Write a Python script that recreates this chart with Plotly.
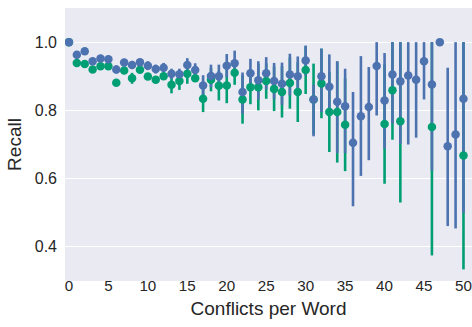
import plotly.graph_objects as go

conflicts = list(range(0, 51))

blue_recall = [1.0, 0.963, 0.973, 0.944, 0.952, 0.950, 0.920, 0.940, 0.933, 0.941,
               0.931, 0.921, 0.925, 0.907, 0.906, 0.933, 0.918, 0.873, 0.901, 0.900,
               0.931, 0.938, 0.854, 0.909, 0.888, 0.909, 0.886, 0.878, 0.905, 0.900,
               0.946, 0.832, 0.900, 0.869, 0.825, 0.812, 0.705, 0.783, 0.810, 0.930,
               0.829, 0.905, 0.885, 0.902, 0.890, 0.944, 0.876, 1.0, 0.695, 0.729,
               0.834]
blue_lo = [1.0, 0.955, 0.965, 0.934, 0.942, 0.940, 0.908, 0.930, 0.921, 0.931,
           0.918, 0.908, 0.911, 0.892, 0.890, 0.913, 0.898, 0.843, 0.868, 0.866,
           0.897, 0.901, 0.790, 0.867, 0.832, 0.862, 0.833, 0.816, 0.844, 0.842,
           0.902, 0.724, 0.795, 0.800, 0.675, 0.675, 0.519, 0.608, 0.654, 0.785,
           0.688, 0.761, 0.702, 0.700, 0.720, 0.832, 0.624, 1.0, 0.461, 0.454,
           0.500]
blue_hi = [1.0, 0.971, 0.981, 0.954, 0.962, 0.960, 0.932, 0.950, 0.945, 0.951,
           0.944, 0.934, 0.939, 0.922, 0.922, 0.953, 0.938, 0.903, 0.934, 0.934,
           0.965, 0.975, 0.911, 0.951, 0.944, 0.956, 0.939, 0.940, 0.966, 0.958,
           0.990, 0.875, 0.981, 0.964, 0.944, 0.922, 0.854, 0.959, 0.927, 1.0,
           0.968, 1.0, 1.0, 1.0, 1.0, 1.0, 1.0, 1.0, 0.925, 1.0,
           1.0]

N = None
green_recall = [1.0, 0.939, 0.936, 0.920, 0.929, 0.929, 0.881, 0.917, 0.894, 0.919,
                0.899, 0.890, 0.900, 0.875, 0.886, 0.907, 0.894, 0.834, 0.890, 0.872,
                0.873, 0.910, 0.832, 0.868, 0.868, 0.886, 0.863, 0.854, 0.880, 0.854,
                0.918, 0.832, 0.879, 0.795, 0.795, 0.758, N, N, N, N,
                0.760, 0.859, 0.768, N, N, N, 0.751, N, N, N,
                0.668]
green_lo = [1.0, 0.931, 0.928, 0.912, 0.921, 0.921, 0.873, 0.909, 0.878, 0.911,
            0.889, 0.880, 0.890, 0.850, 0.860, 0.878, 0.884, 0.795, 0.856, 0.829,
            0.821, 0.875, 0.761, 0.818, 0.800, 0.834, 0.798, 0.779, 0.805, 0.766,
            0.848, 0.730, 0.777, 0.678, 0.647, 0.622, N, N, N, N,
            0.585, 0.714, 0.530, N, N, N, 0.375, N, N, N,
            0.334]
green_hi = [1.0, 0.947, 0.944, 0.928, 0.937, 0.937, 0.889, 0.925, 0.910, 0.927,
            0.909, 0.900, 0.910, 0.900, 0.912, 0.936, 0.904, 0.873, 0.924, 0.915,
            0.925, 0.945, 0.903, 0.918, 0.936, 0.938, 0.928, 0.929, 0.955, 0.942,
            0.988, 0.937, 0.981, 0.912, 0.943, 0.894, N, N, N, N,
            0.935, 1.0, 1.0, N, N, N, 1.0, N, N, N,
            1.0]

BLUE = "#4C72B0"
GREEN = "#009E73"
TXT = "#262626"


def err(mean, lo, hi):
    plus = [None if m is None else h - m for m, h in zip(mean, hi)]
    minus = [None if m is None else m - l for m, l in zip(mean, lo)]
    return plus, minus


fig = go.Figure()
g_plus, g_minus = err(green_recall, green_lo, green_hi)
b_plus, b_minus = err(blue_recall, blue_lo, blue_hi)

# error bars (lines) first, green then blue
for mean, plus, minus, col, nm in [(green_recall, g_plus, g_minus, GREEN, "Series B"),
                                   (blue_recall, b_plus, b_minus, BLUE, "Series A")]:
    fig.add_trace(go.Scatter(
        x=conflicts, y=mean, mode="markers", name=nm, showlegend=False,
        marker=dict(size=1, color="rgba(0,0,0,0)"),
        error_y=dict(type="data", symmetric=False, array=plus, arrayminus=minus,
                     color=col, thickness=2.6, width=0),
        hoverinfo="skip"))

# points on top
for mean, col, nm in [(green_recall, GREEN, "Series B"), (blue_recall, BLUE, "Series A")]:
    fig.add_trace(go.Scatter(
        x=conflicts, y=mean, mode="markers", name=nm, showlegend=False,
        marker=dict(size=8.5, color=col, line=dict(width=0))))

fig.update_layout(
    width=472, height=327,
    margin=dict(l=65, r=0, t=8, b=46),
    paper_bgcolor="white", plot_bgcolor="#EAEAF2",
    font=dict(family="Liberation Sans, Arial, sans-serif", color=TXT, size=16),
    showlegend=False,
)
fig.update_xaxes(
    range=[-0.5, 51.08], tickmode="array", tickvals=list(range(0, 51, 5)),
    showgrid=False, zeroline=False, showline=False, ticks="",
    automargin=False, ticklabelstandoff=-6,
    tickfont=dict(size=15.2, color=TXT),
    title=dict(text="Conflicts per Word", font=dict(size=19, color=TXT), standoff=8),
)
fig.update_yaxes(
    range=[0.3, 1.1], tickmode="array", tickvals=[0.4, 0.6, 0.8, 1.0],
    tickformat=".1f", showgrid=True, gridcolor="white", gridwidth=1.3,
    zeroline=False, showline=False, ticks="",
    automargin=False, ticklabelstandoff=7,
    tickfont=dict(size=16, color=TXT),
    title=dict(text="Recall", font=dict(size=19, color=TXT), standoff=8),
)

fig.write_html("out.html", config={"displayModeBar": False},
               post_script="document.body.style.margin='0';document.body.style.padding='0';")
